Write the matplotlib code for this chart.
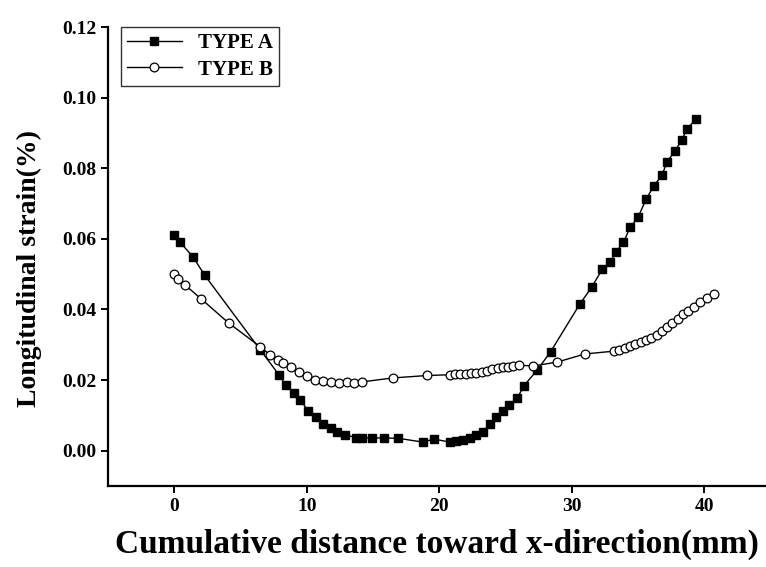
# Longitudinal strain along x-direction

# Importing the libraries
import numpy as np
import matplotlib
matplotlib.use('Agg')
import matplotlib.pyplot as plt

# Data
type_a_x = [0, 0.45, 1.4, 2.3, 6.5, 7.9, 8.4, 9.0, 9.5, 10.1, 10.7, 11.2, 11.8,
            12.3, 12.9, 13.7, 14.2, 14.9, 15.8, 16.9, 18.8, 19.6, 20.8, 21.3,
            21.8, 22.3, 22.8, 23.3, 23.8, 24.3, 24.8, 25.3, 25.9, 26.4, 27.4,
            28.4, 30.6, 31.5, 32.3, 32.9, 33.3, 33.9, 34.4, 35.0, 35.6, 36.2,
            36.8, 37.2, 37.8, 38.3, 38.7, 39.4]
type_a_y = [0.061, 0.059, 0.055, 0.0497, 0.0285, 0.0215, 0.0186, 0.0164, 0.0144,
            0.0113, 0.0094, 0.0076, 0.0064, 0.0054, 0.0045, 0.0037, 0.0036,
            0.0036, 0.0036, 0.0035, 0.0024, 0.0033, 0.0024, 0.0026, 0.0030,
            0.0035, 0.0043, 0.0054, 0.0075, 0.0096, 0.0113, 0.0130, 0.0150,
            0.0184, 0.0229, 0.0280, 0.0415, 0.0463, 0.0514, 0.0534, 0.0562,
            0.0590, 0.0633, 0.0661, 0.0712, 0.0751, 0.0780, 0.0819, 0.0850,
            0.0880, 0.0912, 0.0940]

type_b_x = [0, 0.3, 0.8, 2.0, 4.1, 6.5, 7.25, 7.8, 8.2, 8.8, 9.4, 10.0, 10.65,
            11.2, 11.8, 12.4, 13.0, 13.6, 14.2, 16.5, 19.1, 20.8, 21.2, 21.6,
            22.0, 22.4, 22.8, 23.2, 23.6, 24.0, 24.4, 24.8, 25.2, 25.6, 26.0,
            27.1, 28.9, 31.0, 33.2, 33.6, 34.0, 34.4, 34.8, 35.2, 35.6, 36.0,
            36.4, 36.8, 37.2, 37.6, 38.0, 38.4, 38.8, 39.2, 39.7, 40.2, 40.7]
type_b_y = [0.050, 0.0486, 0.047, 0.0431, 0.0362, 0.0294, 0.0271, 0.0257,
            0.0248, 0.0237, 0.0223, 0.0212, 0.0200, 0.0198, 0.0195, 0.0192,
            0.0195, 0.0193, 0.0195, 0.0206, 0.0213, 0.0215, 0.0216, 0.0217,
            0.0218, 0.0219, 0.0220, 0.0222, 0.0225, 0.0230, 0.0234, 0.0236,
            0.0238, 0.0240, 0.0242, 0.0240, 0.0251, 0.0274, 0.0282, 0.0286,
            0.0291, 0.0296, 0.0302, 0.0308, 0.0314, 0.0320, 0.0328, 0.0338,
            0.0350, 0.0362, 0.0373, 0.0386, 0.0396, 0.0406, 0.0420, 0.0432,
            0.0443]

x_ticks = [0, 10, 20, 30, 40]
y_ticks = [0.00, 0.02, 0.04, 0.06, 0.08, 0.10, 0.12]

plt.rcParams['font.family'] = ['Liberation Serif', 'DejaVu Serif']
plt.rcParams['font.weight'] = 'bold'

fig = plt.figure(figsize=(7.66, 5.67), dpi=100)
ax = fig.add_axes([0.141, 0.143, 0.858, 0.809])

ax.plot(type_a_x, type_a_y, color='black', linewidth=1.0, marker='s',
        markersize=6.3, markerfacecolor='black', markeredgecolor='black',
        label='TYPE A')
ax.plot(type_b_x, type_b_y, color='black', linewidth=1.0, marker='o',
        markersize=6.3, markerfacecolor='white', markeredgecolor='black',
        markeredgewidth=0.9, label='TYPE B')

ax.set_xlim(-5, 44.6)
ax.set_ylim(-0.01, 0.12)
ax.set_xticks(x_ticks)
ax.set_yticks(y_ticks)
ax.set_yticklabels(['%.2f' % v for v in y_ticks])

for side in ['top', 'right']:
    ax.spines[side].set_visible(False)
for side in ['left', 'bottom']:
    ax.spines[side].set_linewidth(1.6)

ax.tick_params(direction='out', length=5, width=1.4, labelsize=14)
for lab in ax.get_xticklabels() + ax.get_yticklabels():
    lab.set_fontweight('bold')

ax.set_xlabel('Cumulative distance toward x-direction(mm)', fontsize=24,
              fontweight='bold', labelpad=10)
ax.set_ylabel('Longitudinal strain(%)', fontsize=20, fontweight='bold')
ax.yaxis.set_label_coords(-0.1, 0.475)

leg = ax.legend(loc='upper left', bbox_to_anchor=(0.02, 1.0), borderaxespad=0,
                fancybox=False, edgecolor='black',
                handlelength=2.6, borderpad=0.3, labelspacing=0.3,
                prop={'weight': 'bold', 'size': 15})
leg.get_frame().set_linewidth(1.0)

fig.savefig('out.png', dpi=100)
